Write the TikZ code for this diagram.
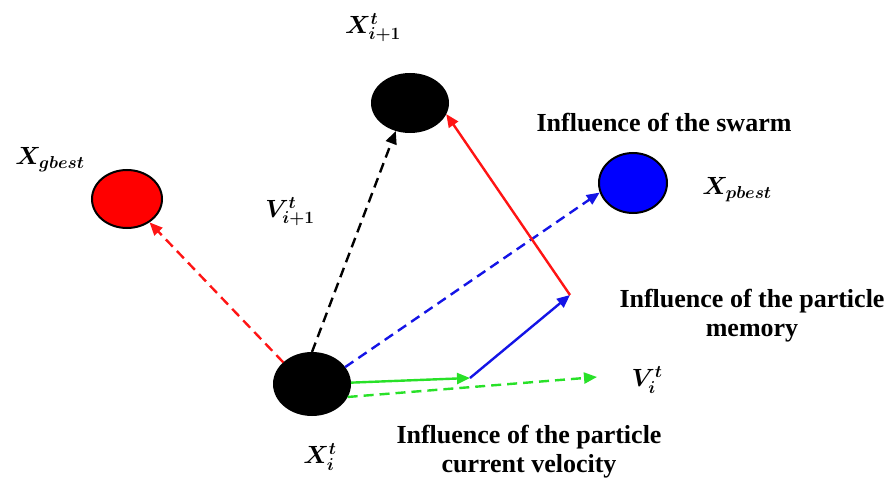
\documentclass[tikz,border=0pt]{standalone}
\usepackage{fontspec}
\setmainfont{Liberation Serif}
\usepackage{bm}
\usetikzlibrary{arrows.meta,shapes.geometric}
\definecolor{swarmred}{RGB}{255,20,20}
\definecolor{memblue}{RGB}{20,20,230}
\definecolor{velgreen}{RGB}{40,225,40}
\tikzset{
  particle/.style={ellipse,draw=black,line width=2pt,inner sep=0pt},
  move/.style={line width=2.4pt,-{Triangle[length=13pt,width=11pt]}},
  guess/.style={move,dash pattern=on 10pt off 6pt},
  txt/.style={font=\bfseries\fontsize{26}{29}\selectfont,align=center},
  sym/.style={font=\fontsize{23}{26}\selectfont},
}
\begin{document}
\begin{tikzpicture}[x=1pt,y=-1pt]
\useasboundingbox (0,0) rectangle (893,489);
% particles
\node[particle,fill=black,minimum width=76,minimum height=62] (xi) at (312,384) {};
\node[particle,fill=black,minimum width=76,minimum height=58] (xnext) at (410,103) {};
\node[particle,fill=red,minimum width=70,minimum height=58] (gbest) at (127,199) {};
\node[particle,fill=blue,minimum width=68,minimum height=60] (pbest) at (633,183) {};
\coordinate (vstep) at (470,378);
\coordinate (mstep) at (570,295);
\coordinate (vend) at (597,377);
% labels
\node[sym] (lxnext) at (373,28) {$\bm{X^{t}_{i+1}}$};
\node[sym] (lgbest) at (50,160) {$\bm{X_{gbest}}$};
\node[sym] (lvnext) at (290,212) {$\bm{V^{t}_{i+1}}$};
\node[sym] (lpbest) at (737,190) {$\bm{X_{pbest}}$};
\node[sym] (lvi) at (647,380) {$\bm{V^{t}_{i}}$};
\node[sym] (lxi) at (320,457) {$\bm{X^{t}_{i}}$};
\node[txt] (swarm) at (664,123) {Influence of the swarm};
\node[txt] (memory) at (752,316) {Influence of the particle\\memory};
\node[txt] (velocity) at (529,452) {Influence of the particle\\current velocity};
% moves
\draw[guess,swarmred] (xi.143) -- (gbest.-46);
\draw[guess,black] (xi.90) -- (xnext.-117);
\draw[guess,memblue] (xi.27) -- (pbest.-164);
\draw[guess,velgreen] (xi.-20) -- (vend);
\draw[move,velgreen] (xi.2) -- (vstep);
\draw[move,memblue] (vstep) -- (mstep);
\draw[move,swarmred] (mstep) -- (xnext.-17);
\end{tikzpicture}
\end{document}
